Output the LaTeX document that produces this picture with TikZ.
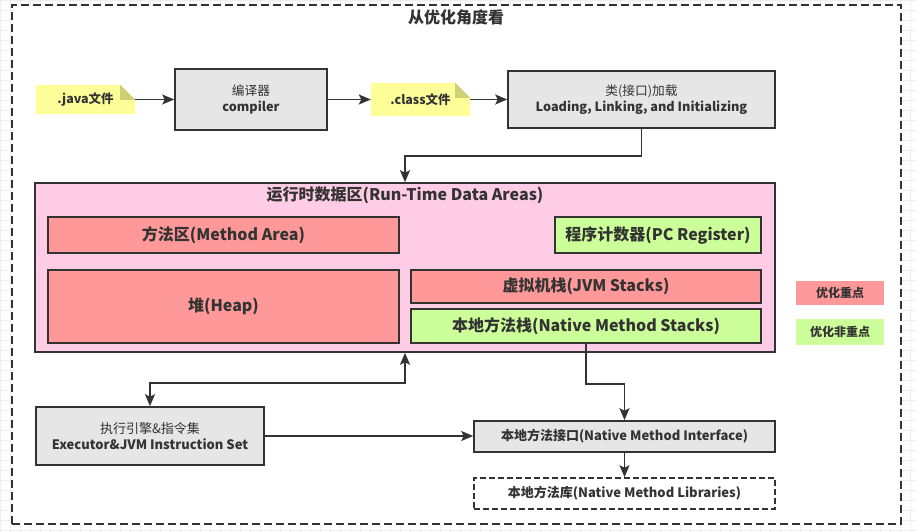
\documentclass[tikz,border=0pt]{standalone}
\usepackage{fontspec}
\setmainfont{Noto Sans CJK SC}
\usetikzlibrary{arrows.meta,calc}
\definecolor{ink}{HTML}{333333}
\definecolor{boxgray}{HTML}{E6E6E6}
\definecolor{pinkarea}{HTML}{FFCCE6}
\definecolor{redbox}{HTML}{FF9999}
\definecolor{greenbox}{HTML}{CCFF99}
\definecolor{notey}{HTML}{FFFF99}
\definecolor{notefold}{HTML}{CFCF75}
\definecolor{gridc}{HTML}{EEEEEE}
\tikzset{
  base/.style={draw=ink, line width=1.6pt, text=ink, inner sep=0pt, align=center, font=\bfseries\fontsize{12.7}{16}\selectfont},
  graybox/.style={base, fill=boxgray},
  redb/.style={base, fill=redbox, font=\bfseries\fontsize{16}{19}\selectfont},
  greenb/.style={base, fill=greenbox, font=\bfseries\fontsize{16}{19}\selectfont},
  area/.style={base, fill=pinkarea},
  notebox/.style={inner sep=0pt, text=ink, font=\bfseries\fontsize{12.5}{15}\selectfont},
  legendbox/.style={inner sep=0pt, text=ink, font=\bfseries\fontsize{12}{15}\selectfont},
  frame/.style={draw=ink, line width=1.6pt, dash pattern=on 8pt off 4pt, fill=white, inner sep=0pt},
  dashbox/.style={base, dash pattern=on 6pt off 3pt, fill=white, font=\bfseries\fontsize{13}{16}\selectfont},
  tip/.style={},
  arr/.style={draw=ink, line width=1.6pt, -{Stealth[length=12pt,width=10pt,inset=2.5pt]}},
  biarr/.style={draw=ink, line width=1.6pt, {Stealth[length=12pt,width=10pt,inset=2.5pt]}-{Stealth[length=12pt,width=10pt,inset=2.5pt]}},
}
\begin{document}
\begin{tikzpicture}[x=1pt,y=-1pt]
\useasboundingbox (0,0) rectangle (916,532);
\draw[gridc, line width=0.5pt, step=10pt] (0,0) grid (916,532);
% outer frame
\node[frame, minimum width=889pt, minimum height=519pt] (frame) at (456.5,264.5) {};
\node[text=ink, font=\bfseries\fontsize{16}{19}\selectfont] (title) at (456,17) {从优化角度看};
% notes
\node[notebox, minimum width=99pt, minimum height=29pt] (java) at (85.5,99.5) {};
\node[notebox, minimum width=99pt, minimum height=33pt] (class) at (420.5,99.5) {};
\foreach \n in {java,class}{
  \fill[notey] (\n.south west) -- (\n.north west) -- ($(\n.north east)+(-15,0)$) -- ($(\n.north east)+(0,15)$) -- (\n.south east) -- cycle;
  \fill[notefold] ($(\n.north east)+(-15,0)$) -- ($(\n.north east)+(0,15)$) -- ($(\n.north east)+(-15,15)$) -- cycle;
}
\node[notebox] at (java) {.java文件};
\node[notebox] at (class) {.class文件};
% top boxes
\node[graybox, minimum width=152pt, minimum height=61pt] (comp) at (251,99.5) {{\mdseries 编译器}\\compiler};
\node[graybox, minimum width=267pt, minimum height=57pt] (load) at (641.5,99.5) {{\mdseries 类(接口)加载}\\Loading, Linking, and Initializing};
% runtime data area
\node[area, minimum width=740pt, minimum height=169pt] (rtda) at (405,267.5) {};
\node[text=ink, font=\bfseries\fontsize{16}{19}\selectfont] (rtdat) at (405,195) {运行时数据区(Run-Time Data Areas)};
\node[redb, minimum width=351pt, minimum height=36pt] (method) at (223.5,235) {方法区(Method Area)};
\node[greenb, minimum width=206pt, minimum height=36pt] (pc) at (658,235) {程序计数器(PC Register)};
\node[redb, minimum width=351pt, minimum height=73pt] (heap) at (223.5,306.5) {堆(Heap)};
\node[redb, minimum width=350pt, minimum height=33pt] (jvms) at (586,286.5) {虚拟机栈(JVM Stacks)};
\node[greenb, minimum width=350pt, minimum height=34pt] (nms) at (586,326) {本地方法栈(Native Method Stacks)};
% legend
\node[legendbox, fill=redbox, minimum width=88pt, minimum height=24pt] (leg1) at (840,293) {优化重点};
\node[legendbox, fill=greenbox, minimum width=88pt, minimum height=26pt] (leg2) at (840,332) {优化非重点};
% bottom boxes
\node[graybox, minimum width=228pt, minimum height=58pt, font=\bfseries\fontsize{13}{16}\selectfont] (exec) at (150,436) {{\mdseries 执行引擎\&指令集}\\Executor\&JVM Instruction Set};
\node[graybox, minimum width=301pt, minimum height=31pt, font=\bfseries\fontsize{13}{16}\selectfont] (nmi) at (624.5,436.5) {本地方法接口(Native Method Interface)};
\node[dashbox, minimum width=301pt, minimum height=31pt] (nml) at (624.5,493.5) {本地方法库(Native Method Libraries)};
% connectors
\draw[arr] (java.east) -- (comp.west);
\draw[arr] (comp.east) -- (class.west);
\draw[arr] (class.east) -- (load.west);
\draw[arr] (load.south) -- ++(0,27) -| (rtda.north);
\draw[biarr] (rtda.south) -- ++(0,30) -| (exec.north);
\draw[arr] (nms.south) -- ++(0,40) -| (nmi.north);
\draw[arr] (exec.east) -- (exec.east -| nmi.west);
\draw[arr] (nmi.south) -- (nml.north);
\end{tikzpicture}
\end{document}
